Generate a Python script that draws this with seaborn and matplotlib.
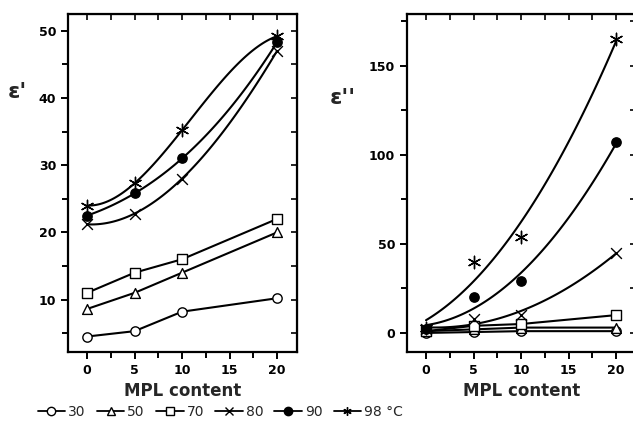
import numpy as np
import pandas as pd
import matplotlib
matplotlib.use("Agg")
import matplotlib.pyplot as plt
from matplotlib.lines import Line2D
from matplotlib.ticker import MultipleLocator
import seaborn as sns

# ---- data ----
mpl_content = [0, 5, 10, 20]
temps = ["30", "50", "70", "80", "90", "98"]

eps1_30 = [4.5, 5.3, 8.2, 10.2]
eps1_50 = [8.6, 11.0, 14.0, 20.0]
eps1_70 = [11.0, 14.0, 16.0, 22.0]
eps1_80 = [21.2, 22.8, 28.0, 47.0]
eps1_90 = [22.5, 25.8, 31.0, 48.3]
eps1_98 = [24.0, 27.3, 35.2, 49.2]

eps2_30 = [0.0, 0.5, 1.0, 1.0]
eps2_50 = [1.0, 2.0, 3.0, 3.0]
eps2_70 = [1.0, 4.0, 5.0, 10.0]
eps2_80 = [2.0, 8.0, 10.0, 45.0]
eps2_90 = [2.0, 20.0, 29.0, 107.0]
eps2_98 = [3.0, 40.0, 54.0, 165.0]

legend_labels = ["30", "50", "70", "80", "90", "98 °C"]

eps1 = [eps1_30, eps1_50, eps1_70, eps1_80, eps1_90, eps1_98]
eps2 = [eps2_30, eps2_50, eps2_70, eps2_80, eps2_90, eps2_98]

# ---- styling ----
sns.set_style("ticks")
plt.rcParams["font.family"] = ["DejaVu Sans"]

markers = ["o", "^", "s", "x", "o", (6, 2, 0)]
faces = ["white", "white", "white", "black", "black", "black"]
sizes = [45, 50, 45, 60, 45, 80]
# 0 = straight segments, n = smooth polynomial curve of order n
orders_left = [0, 0, 0, 3, 3, 3]
orders_right = [0, 0, 0, 2, 2, 2]

fig = plt.figure(figsize=(6.33, 4.33), dpi=100)
axL = fig.add_axes([68 / 633, 1 - 352 / 433, 229 / 633, 338 / 433])
axR = fig.add_axes([407 / 633, 1 - 352 / 433, 229 / 633, 338 / 433])


def draw(ax, series, orders):
    for t, vals, m, fc, s, o in zip(temps, series, markers, faces, sizes, orders):
        df = pd.DataFrame({"x": mpl_content, "y": vals})
        if o == 0:
            sns.lineplot(data=df, x="x", y="y", ax=ax, color="black", lw=1.5,
                         zorder=2, errorbar=None)
        else:
            sns.regplot(data=df, x="x", y="y", ax=ax, order=o, ci=None,
                        scatter=False, color="black", truncate=True,
                        line_kws=dict(lw=1.5, color="black", zorder=2))
        if fc == "white":
            ax.scatter(mpl_content, vals, marker=m, s=s, facecolors=fc,
                       edgecolors="black", linewidths=1.0, zorder=3, clip_on=False)
        else:
            sns.scatterplot(data=df, x="x", y="y", ax=ax, marker=m, s=s,
                            color="black",
                            edgecolor="black" if m == "o" else None,
                            linewidth=1.0, zorder=3, clip_on=False)


draw(axL, eps1, orders_left)
draw(axR, eps2, orders_right)

axL.set_xlim(-2, 22.1)
axL.set_ylim(2.2, 52.5)
axL.yaxis.set_major_locator(MultipleLocator(10))
axL.yaxis.set_minor_locator(MultipleLocator(5))

axR.set_xlim(-2, 22.1)
axR.set_ylim(-10.7, 179)
axR.yaxis.set_major_locator(MultipleLocator(50))
axR.yaxis.set_minor_locator(MultipleLocator(25))

for ax, lab, lx, ly in [(axL, "ε'", -0.22, 0.77), (axR, "ε''", -0.28, 0.75)]:
    ax.xaxis.set_major_locator(MultipleLocator(5))
    ax.xaxis.set_minor_locator(MultipleLocator(2.5))
    ax.set_xlabel("MPL content", fontsize=12, fontweight="bold", labelpad=4)
    ax.set_ylabel(lab, fontsize=16, fontweight="bold", rotation=0,
                  ha="center", va="center")
    ax.yaxis.set_label_coords(lx, ly)
    for s in ax.spines.values():
        s.set_visible(True)
        s.set_linewidth(1.6)
        s.set_color("black")
    ax.tick_params(axis="both", which="both", direction="out", width=1.4,
                   colors="black", labelsize=9)
    ax.tick_params(axis="both", which="major", length=5)
    ax.tick_params(axis="both", which="minor", length=4)
    for lbl in ax.get_xticklabels() + ax.get_yticklabels():
        lbl.set_fontweight("bold")
    # inward ticks on top and right
    sx = ax.secondary_xaxis("top")
    sx.xaxis.set_major_locator(MultipleLocator(2.5))
    sx.tick_params(direction="in", length=4, width=1.4, labeltop=False)
    sy = ax.secondary_yaxis("right")
    sy.yaxis.set_major_locator(MultipleLocator(5 if ax is axL else 25))
    sy.tick_params(direction="in", length=4, width=1.4, labelright=False)

handles = [Line2D([0], [0], color="black", lw=1.3, marker=m, markersize=6,
                  markerfacecolor=fc, markeredgecolor="black", markeredgewidth=1.0)
           for m, fc in zip(markers, faces)]
fig.legend(handles, legend_labels, loc="center", bbox_to_anchor=(0.348, 0.048),
           ncol=6, frameon=False, fontsize=10, handlelength=2.0,
           handletextpad=0.2, columnspacing=0.8, borderaxespad=0)

fig.savefig("out.png", dpi=100)
